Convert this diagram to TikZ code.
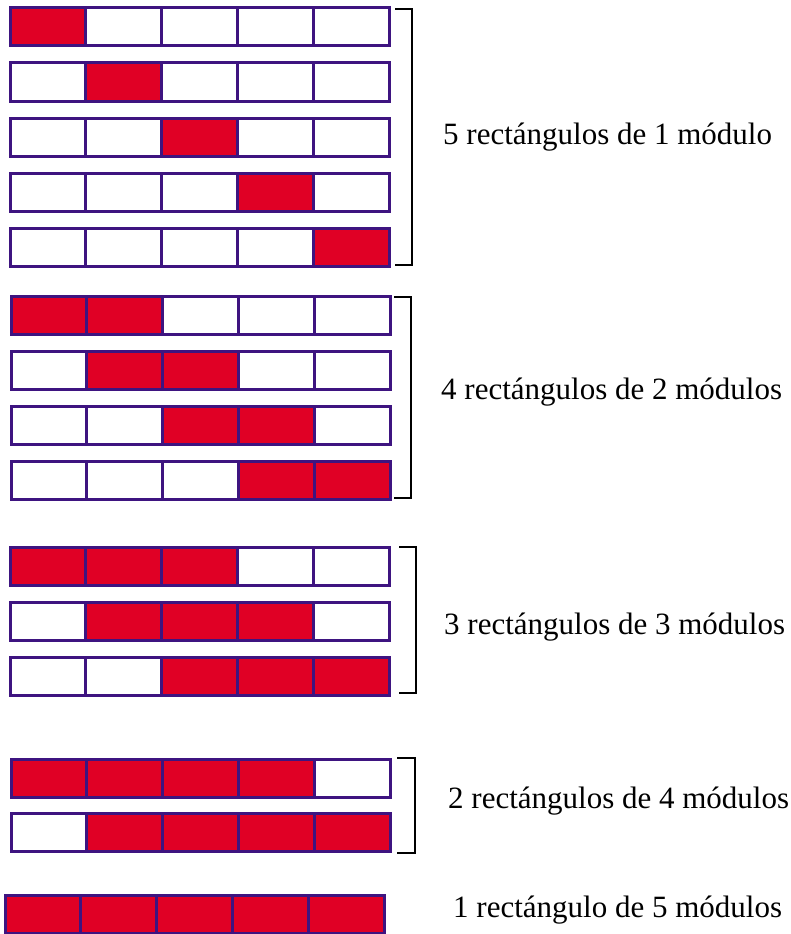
\documentclass[tikz,border=0pt]{standalone}
\usepackage{fontspec}
\setmainfont{Liberation Serif}
\definecolor{cellred}{HTML}{E00025}
\definecolor{cellline}{HTML}{3E1480}
\tikzset{
  cellbox/.style={draw=cellline, line width=3pt},
  bracketline/.style={draw=black, line width=1.8pt},
  lbl/.style={anchor=base west, inner sep=0pt, font=\fontsize{31}{36}\selectfont}
}
% row: x0, ytop, first red, last red
\newcommand\cellrow[4]{%
  \foreach \i in {1,...,5}{%
    \pgfmathsetmacro\xa{#1+(\i-1)*75.8}%
    \pgfmathsetmacro\xb{#1+\i*75.8}%
    \ifnum\i<#3\relax
      \path[cellbox,fill=white] (\xa,#2) rectangle (\xb,#2+38);
    \else\ifnum\i>#4\relax
      \path[cellbox,fill=white] (\xa,#2) rectangle (\xb,#2+38);
    \else
      \path[cellbox,fill=cellred] (\xa,#2) rectangle (\xb,#2+38);
    \fi\fi
  }%
}
\begin{document}
\begin{tikzpicture}[x=1pt,y=-1pt]
\useasboundingbox (0,0) rectangle (791,934);
% group 1
\cellrow{10}{8}{1}{1}
\cellrow{10}{63}{2}{2}
\cellrow{10}{118}{3}{3}
\cellrow{10}{173}{4}{4}
\cellrow{10}{228}{5}{5}
\draw[bracketline] (395,9) -- (412,9) -- (412,265) -- (395,265);
\node[lbl] (l1) at (443,144) {5 rectángulos de 1 módulo};
% group 2
\cellrow{11}{296}{1}{2}
\cellrow{11}{351}{2}{3}
\cellrow{11}{406}{3}{4}
\cellrow{11}{461}{4}{5}
\draw[bracketline] (394,297) -- (411,297) -- (411,498) -- (394,498);
\node[lbl] (l2) at (441,399) {4 rectángulos de 2 módulos};
% group 3
\cellrow{10}{547}{1}{3}
\cellrow{10}{602}{2}{4}
\cellrow{10}{657}{3}{5}
\draw[bracketline] (399,547) -- (416,547) -- (416,693) -- (399,693);
\node[lbl] (l3) at (444,634) {3 rectángulos de 3 módulos};
% group 4
\cellrow{11}{759}{1}{4}
\cellrow{11}{813}{2}{5}
\draw[bracketline] (397,758) -- (415,758) -- (415,853) -- (397,853);
\node[lbl] (l4) at (448,808) {2 rectángulos de 4 módulos};
% group 5
\cellrow{5}{895}{1}{5}
\node[lbl] (l5) at (453,917) {1 rectángulo de 5 módulos};
\end{tikzpicture}
\end{document}
